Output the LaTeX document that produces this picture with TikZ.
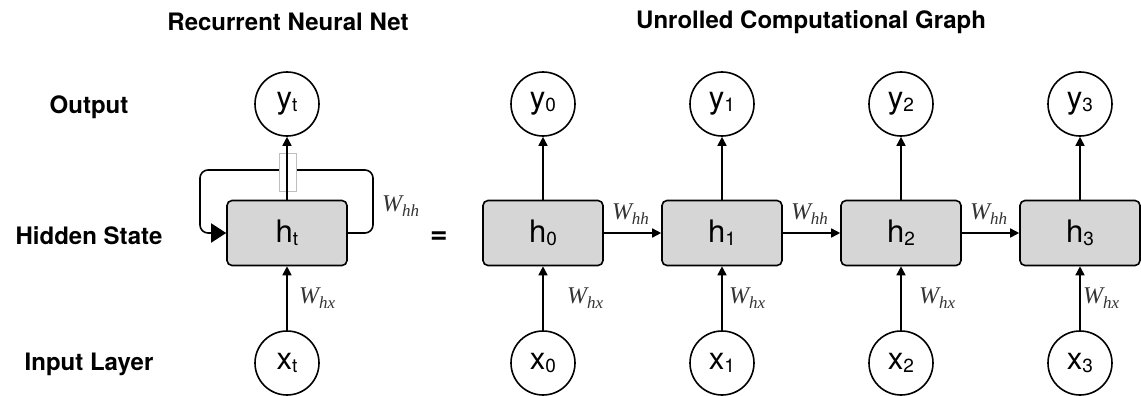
\documentclass[tikz,border=0pt]{standalone}
\usepackage{fontspec}
\setmainfont{TeX Gyre Heros}
\newfontfamily\wfont{Liberation Serif}
\usetikzlibrary{arrows.meta}
\definecolor{boxgray}{gray}{0.84}

\newcommand{\rnnlabel}[2]{{\fontsize{31}{31}\selectfont #1\raisebox{-3pt}{\fontsize{19}{19}\selectfont #2}}}
\newcommand{\wlabel}[1]{{\wfont\itshape\fontsize{24}{24}\selectfont W\raisebox{-5pt}{\fontsize{17}{17}\selectfont #1}}}

\tikzset{
  unit/.style={circle,draw,line width=1.6pt,minimum size=64pt,inner sep=0pt},
  state/.style={rectangle,draw,rounded corners=5pt,fill=boxgray,line width=1.6pt,
    minimum width=120pt,minimum height=65pt,inner sep=0pt},
  rowlabel/.style={font=\bfseries\fontsize{24}{24}\selectfont},
  weight/.style={text=black!80,inner sep=0pt,anchor=west},
  link/.style={-{Triangle[length=9pt,width=9pt]},line width=1.6pt},
}

\begin{document}
\begin{tikzpicture}[x=1pt,y=-1pt]
  \useasboundingbox (0,0) rectangle (1141,396);
  % titles and rows
  \node[rowlabel] (titlernn) at (288,22) {Recurrent Neural Net};
  \node[rowlabel] (titleunr) at (811,22) {Unrolled Computational Graph};
  \node[rowlabel] (lout) at (89,107) {Output};
  \node[rowlabel] (lhid) at (89,236) {Hidden State};
  \node[rowlabel] (linp) at (89,364) {Input Layer};

  % folded net
  \node[unit] (yt) at (287,104) {\rnnlabel{y}{t}};
  \node[state] (ht) at (287,233) {\rnnlabel{h}{t}};
  \node[unit] (xt) at (287,363) {\rnnlabel{x}{t}};
  \draw[line width=1.6pt,rounded corners=8pt,-{Triangle[length=15pt,width=19pt]}]
    (ht.east) -- (373,233) -- (373,170) -- (200,170) -- (200,233) -- (ht.west);
  \node[draw=black!25,fill=white,line width=0.8pt,minimum width=17pt,minimum height=38pt,
    inner sep=0pt] (gap) at (287.5,172) {};
  \draw[link] (ht.north) -- (yt.south);
  \draw[link] (xt.north) -- (ht.south);
  \node[weight] (whht) at (382,206) {\wlabel{hh}};
  \node[weight] (whxt) at (299,298) {\wlabel{hx}};

  \node[font=\bfseries\fontsize{30}{30}\selectfont] (eq) at (439,238) {=};

  % unrolled graph
  \foreach \i/\cx/\off in {0/543/24,1/722/7,2/901/18,3/1080/3}{
    \node[unit] (y\i) at (\cx,104) {\rnnlabel{y}{\i}};
    \node[state] (h\i) at (\cx,233) {\rnnlabel{h}{\i}};
    \node[unit] (x\i) at (\cx,363) {\rnnlabel{x}{\i}};
    \draw[link] (h\i.north) -- (y\i.south);
    \draw[link] (x\i.north) -- (h\i.south);
    \node[weight] (whx\i) at (\cx+\off,298) {\wlabel{hx}};
  }
  \foreach \i/\j in {0/1,1/2,2/3}{
    \draw[link] (h\i.east) -- (h\j.west);
    \node[weight] (whh\i) at ([xshift=8pt,yshift=19pt]h\i.east) {\wlabel{hh}};
  }
\end{tikzpicture}
\end{document}
